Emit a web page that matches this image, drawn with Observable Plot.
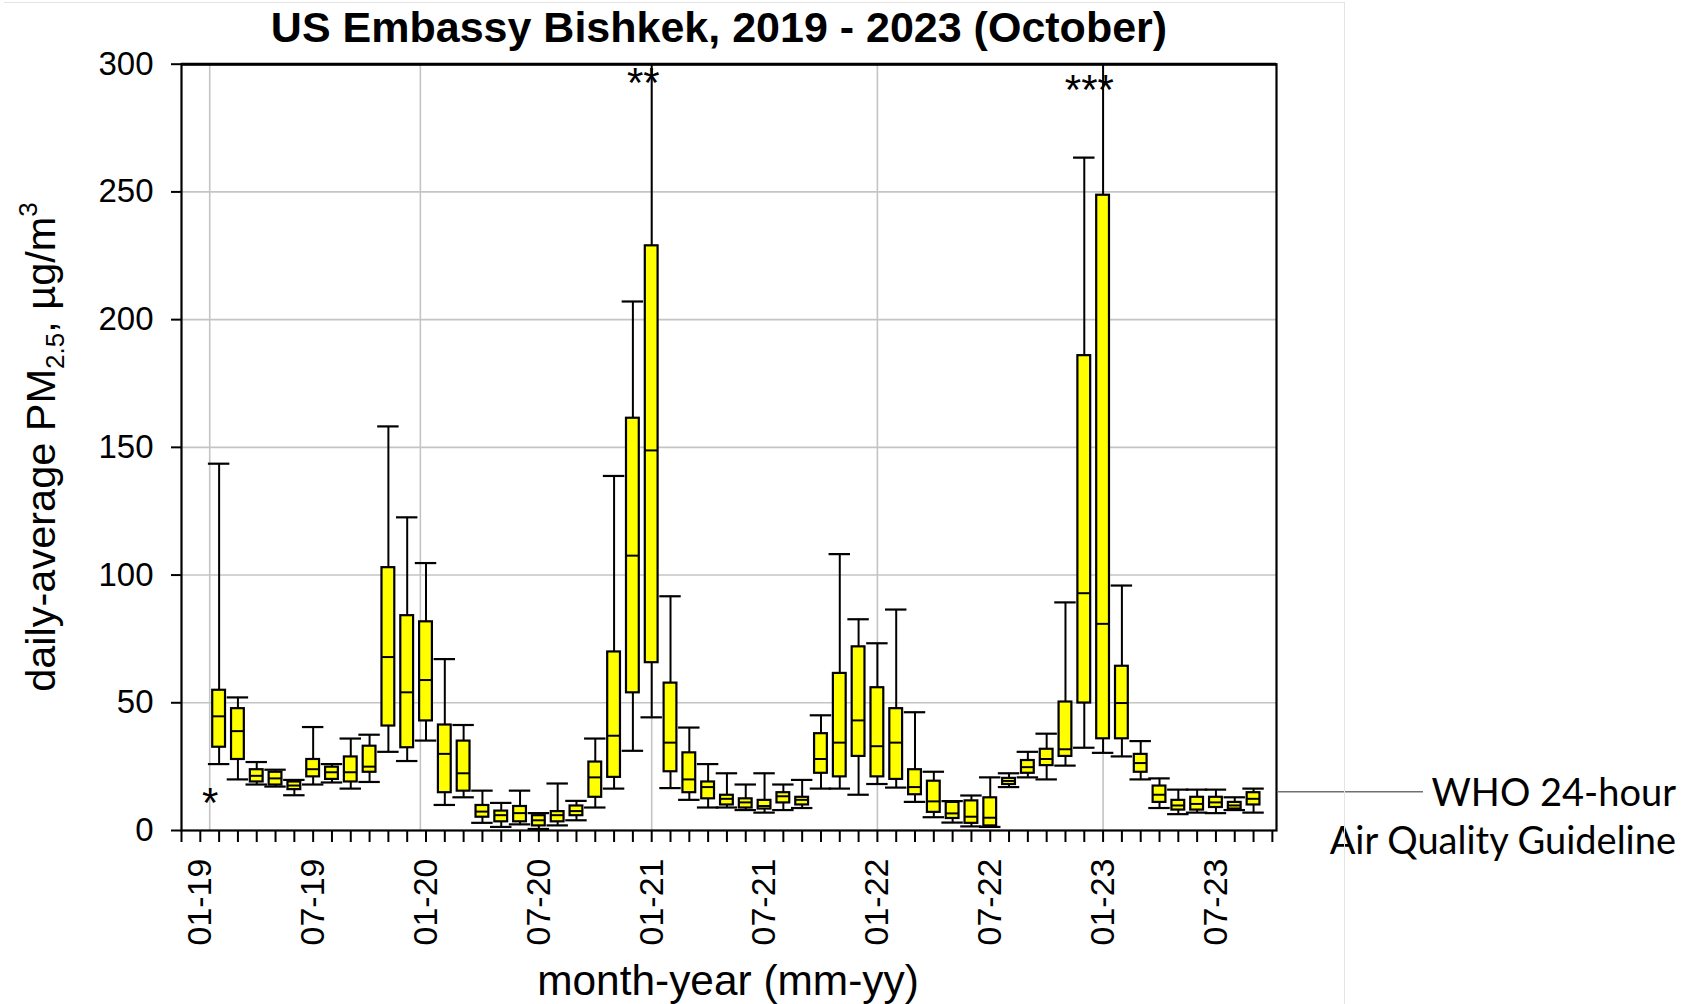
<!DOCTYPE html>
<html><head><meta charset="utf-8">
<script src="https://cdn.jsdelivr.net/npm/d3@7"></script>
<script src="https://cdn.jsdelivr.net/npm/@observablehq/plot@0.6"></script>
<style>
html,body{margin:0;padding:0;background:#fff;}
body{width:1688px;height:1004px;overflow:hidden;position:relative;font-family:"Liberation Sans",Arial,sans-serif;}
#title{position:relative;top:2px;height:48px;width:1438px;text-align:center;font-weight:bold;font-size:43px;line-height:50px;color:#000;white-space:nowrap;}
#border{position:absolute;left:4px;top:2px;width:1340px;height:1010px;border-top:1px solid #e4e4e4;border-right:1px solid #e4e4e4;pointer-events:none;}
#chart svg{display:block;}
</style></head>
<body>
<div id="border"></div>
<div id="title">US Embassy Bishkek, 2019 - 2023 (October)</div>
<div id="chart"></div>
<script>
// month categories (mm-yy)
const months = ["02-19","03-19","04-19","05-19","06-19","07-19","08-19","09-19","10-19","11-19","12-19",
  "01-20","02-20","03-20","04-20","05-20","06-20","07-20","08-20","09-20","10-20","11-20","12-20",
  "01-21","02-21","03-21","04-21","05-21","06-21","07-21","08-21","09-21","10-21","11-21","12-21",
  "01-22","02-22","03-22","04-22","05-22","06-22","07-22","08-22","09-22","10-22","11-22","12-22",
  "01-23","02-23","03-23","04-23","05-23","06-23","07-23","08-23","09-23"];
// lower whisker
const whiskerLow = [26,20,18,17.2,13.8,18,18.8,16.4,19,30.8,27.2,
  35.2,10,13,3,1.4,2.4,0.6,2,4,9,16.4,31.2,
  44.3,16.6,12,9,9,8,7,8,8.8,16.4,16.4,14,
  18.2,16.8,11.2,5.2,3.1,1.6,1.4,17,20.8,20,25.4,32.4,
  30.4,29,20,8.8,6.4,7,6.8,8,7];
// first quartile
const q1 = [32.6,27.8,19,17.8,16,21,20,19,22.8,40.9,32.4,
  42.9,14.8,15.4,5.2,3.4,3.4,1.8,3.4,5.8,13,20.8,53.9,
  65.7,23,14.8,12.4,10,8.8,8.4,10.8,10,22.4,21,29,
  21,20,14,7.1,4.7,2.8,1.8,18,22.4,25.4,29,49.9,
  35.9,35.9,22.8,11,8,8,9,8.4,10];
// median
const median = [44.7,38.9,21.4,20.4,17.6,24,22.8,22.8,25,67.9,54.1,
  58.9,30,22.4,7.4,6,6.8,4,6,7.6,20.8,37.1,107.6,
  148.8,34.4,20,17,12.4,11,9.6,13.4,12,28,34.4,43.1,
  33,34.4,17,11.4,6.7,5.4,5,19.4,24.8,28,31.8,92.9,
  80.9,49.9,26.4,14,9.8,10.4,11,9.8,12.4];
// third quartile
const q3 = [54.9,47.7,23.8,22.8,19,27.8,24.8,28.8,33,102.9,84.1,
  81.7,41.3,35,9.8,7.6,9.4,5.8,7.4,9.6,26.8,69.9,161.4,
  228.9,57.7,30.4,19,13.8,12.4,11.8,14.8,13,37.9,61.5,71.9,
  55.9,47.7,23.8,19.3,11,11.6,12.8,20.4,27.4,31.8,50.3,185.9,
  248.7,64.3,29.8,17.4,11.8,13,13,11,14.8];
// upper whisker (values above 300 run off the top of the frame)
const whiskerHigh = [143.6,52.1,26.8,23.8,19.8,40.5,26,36,37.5,158.2,122.6,
  104.7,67.1,41.3,15.6,10.8,15.6,6.8,18.4,11.6,36,138.8,207.1,
  330,91.7,40.3,26,22.4,18,22.4,18,19.8,45.1,108.2,82.7,
  73.3,86.5,46.3,23,11.5,13.7,20.8,22.4,30.8,37.9,89.3,263.4,
  330,95.9,35,20.4,16,16,16,13,16.4];

const xTickLabels = ["01-19","07-19","01-20","07-20","01-21","07-21","01-22","07-22","01-23","07-23"];
// vertical grid lines as drawn in the original (month index, 0 = 01-19)
const gridX = [0.5, 11.7, 24, 36, 48];
const yTicks = [0,50,100,150,200,250,300];
const yGrid = [50,100,150,200,250];
const whoGuideline = 15;
const notes = [{t:"*", x:0.52, y:14.5},{t:"**", x:23.55, y:296.5},{t:"***", x:47.27, y:293.5}];

const mIdx = s => { const [mm, yy] = s.split("-").map(Number); return (yy - 19) * 12 + (mm - 1); };
const data = months.map((m, i) => ({m, x: mIdx(m), lo: whiskerLow[i], q1: q1[i], med: median[i], q3: q3[i], hi: whiskerHigh[i]}));
const BOX = 0.34, CAP = 0.57;
const allTicks = d3.range(mIdx("12-18"), mIdx("10-23") + 1);
const labelMap = new Map(xTickLabels.map(s => [mIdx(s), s]));
const FONT = '"Liberation Sans", Arial, sans-serif';

const plot = Plot.plot({
  width: 1688, height: 954,
  marginTop: 15.7, marginRight: 412, marginBottom: 172, marginLeft: 181,
  style: {fontFamily: FONT, background: "transparent", overflow: "visible", color: "black"},
  x: {type: "linear", domain: [mIdx("12-18"), mIdx("10-23") + 0.22], label: null},
  y: {domain: [0, 300], label: null},
  marks: [
    Plot.ruleY(yGrid, {stroke: "#c4c4c4", strokeWidth: 1.6}),
    Plot.ruleX(gridX, {stroke: "#c4c4c4", strokeWidth: 1.6}),
    Plot.ruleX(data, {x: "x", y1: "lo", y2: "hi", stroke: "black", strokeWidth: 2, clip: true}),
    Plot.ruleY(data, {y: "hi", x1: d => d.x - CAP, x2: d => d.x + CAP, stroke: "black", strokeWidth: 2.2, clip: true}),
    Plot.ruleY(data, {y: "lo", x1: d => d.x - CAP, x2: d => d.x + CAP, stroke: "black", strokeWidth: 2.2}),
    Plot.rect(data, {x1: d => d.x - BOX, x2: d => d.x + BOX, y1: "q1", y2: "q3", fill: "#ffff00", stroke: "black", strokeWidth: 2.2}),
    Plot.ruleY(data, {y: "med", x1: d => d.x - BOX, x2: d => d.x + BOX, stroke: "black", strokeWidth: 2}),
    Plot.text(notes, {x: "x", y: "y", text: "t", fontSize: 42, dy: 10, fill: "black"}),
    Plot.frame({stroke: "black", strokeWidth: 2.2}),
    Plot.ruleY([300], {stroke: "black", strokeWidth: 3}),
    Plot.axisY({ticks: yTicks, tickSize: 10, tickPadding: 18, fontSize: 33, strokeWidth: 2, label: null}),
    Plot.axisX({ticks: allTicks, tickSize: 12, tickPadding: 16, tickRotate: -90, fontSize: 34, strokeWidth: 2,
      tickFormat: d => labelMap.get(d) ?? "", label: null})
  ]
});
document.getElementById("chart").appendChild(plot);

const svg = d3.select(plot);
// y axis title with subscript / superscript
const yt = svg.append("text")
  .attr("transform", "translate(55,399) rotate(-90)")
  .attr("text-anchor", "middle")
  .style("font-family", FONT).style("font-size", "41.5px").attr("fill", "black");
yt.append("tspan").text("daily-average PM");
yt.append("tspan").attr("dy", 9).style("font-size", "26px").text("2.5");
yt.append("tspan").attr("dy", -9).text(", µg/m");
yt.append("tspan").attr("dy", -18).style("font-size", "26px").text("3");

// x axis title
svg.append("text").attr("x", 728).attr("y", 947).attr("text-anchor", "middle")
  .style("font-family", FONT).style("font-size", "42.4px").attr("fill", "black")
  .text("month-year (mm-yy)");

// WHO guideline pointer + label
const sx = plot.scale("x"), sy = plot.scale("y");
const yW = sy.apply(whoGuideline);
const xR = sx.range[1];
svg.append("line").attr("x1", xR + 1).attr("x2", xR + 147).attr("y1", yW).attr("y2", yW)
  .attr("stroke", "#707070").attr("stroke-width", 1.5);
const wt = svg.append("text").attr("text-anchor", "end")
  .style("font-family", "Lato, 'Open Sans', sans-serif").style("font-size", "38px").attr("fill", "black");
wt.append("tspan").attr("x", 1676).attr("y", yW + 14).text("WHO 24-hour");
wt.append("tspan").attr("x", 1676).attr("y", yW + 62).text("Air Quality Guideline");
</script>
</body></html>
